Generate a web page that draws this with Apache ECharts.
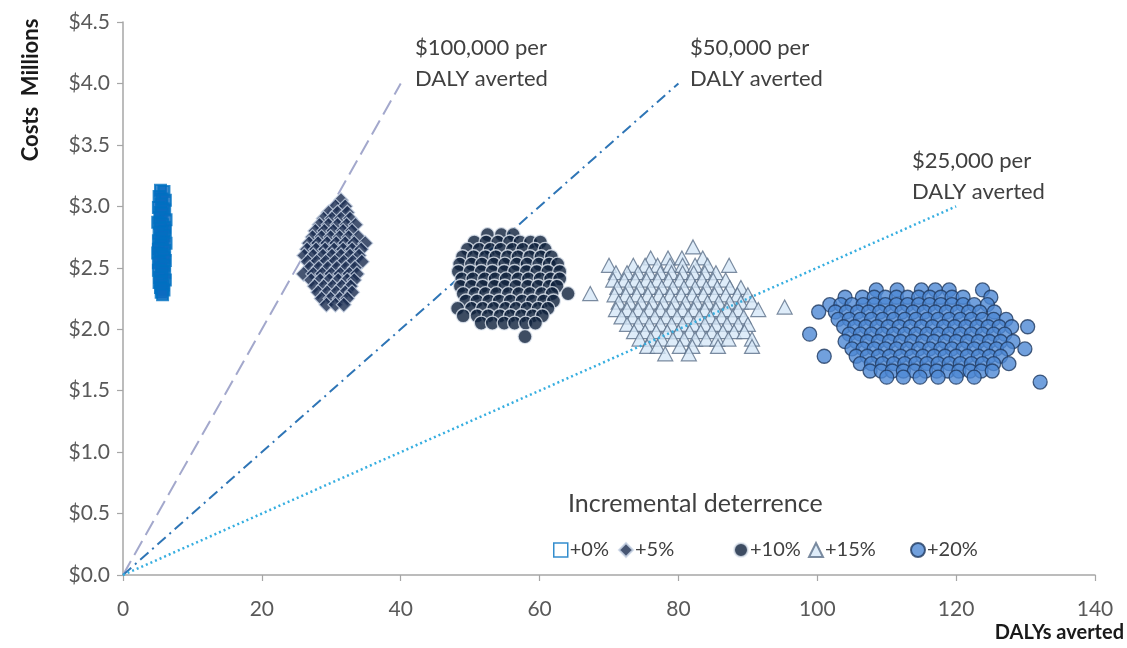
<!DOCTYPE html>
<html>
<head>
<meta charset="utf-8">
<title>Costs vs DALYs averted</title>
<script src="https://cdn.jsdelivr.net/npm/echarts@6/dist/echarts.min.js"></script>
<style>
  html, body { margin: 0; padding: 0; background: #fff; }
  #main { width: 1127px; height: 648px; }
</style>
</head>
<body>
<div id="main"></div>
<script>
// --- data: x = DALYs averted, y = costs ($ millions) ---
var xTicks = [0, 20, 40, 60, 80, 100, 120, 140];
var yTicks = [0, 0.5, 1, 1.5, 2, 2.5, 3, 3.5, 4, 4.5];

// threshold lines (start / end points)
var line100k = [[0, 0], [40, 4.0]];
var line50k = [[0, 0], [80, 4.0]];
var line25k = [[0, 0], [120, 3.0]];

// +0% : open squares, narrow column
var pts0 = [
  [5.4,3.13],[5.9,3.12],[5.2,3.08],[5.6,3.06],[6.1,3.05],[5.5,3.02],[5.1,2.99],[5.8,2.98],
  [6.0,2.97],[5.4,2.95],[5.6,2.94],[5.3,2.91],[6.2,2.89],[5.0,2.87],[5.3,2.86],[5.7,2.85],
  [6.0,2.83],[5.4,2.82],[6.1,2.80],[5.6,2.79],[5.2,2.78],[5.9,2.76],[5.5,2.74],[5.1,2.72],
  [5.8,2.71],[6.2,2.70],[5.4,2.69],[5.6,2.68],[5.3,2.66],[5.1,2.65],[6.0,2.64],[5.0,2.62],
  [5.5,2.61],[5.8,2.60],[5.4,2.58],[5.9,2.58],[6.1,2.56],[5.3,2.55],[5.1,2.54],[5.9,2.52],
  [5.5,2.50],[5.1,2.48],[5.7,2.47],[6.0,2.46],[5.6,2.44],[5.3,2.42],[6.1,2.40],[5.5,2.39],
  [5.2,2.38],[5.8,2.36],[5.4,2.34],[5.6,2.33],[5.9,2.32],[5.5,2.30],[5.7,2.28]
];

// +5% : filled diamonds, rows of [y, xs]
var rows5 = [
  [3.05, [31.4]],
  [3.00, [30.6, 32.0]],
  [2.95, [29.6, 30.9, 32.3]],
  [2.90, [28.9, 30.1, 31.4, 32.7]],
  [2.85, [28.3, 29.6, 30.9, 32.2, 33.5]],
  [2.80, [27.7, 29.0, 30.3, 31.7, 33.0]],
  [2.75, [27.3, 28.6, 29.9, 31.2, 32.5, 33.9]],
  [2.70, [26.8, 28.1, 29.4, 30.7, 32.0, 33.3, 34.9]],
  [2.65, [26.5, 27.8, 29.1, 30.4, 31.7, 33.0, 34.3]],
  [2.60, [26.1, 27.4, 28.8, 30.1, 31.4, 32.7, 34.0]],
  [2.55, [26.6, 27.9, 29.2, 30.5, 31.8, 33.1, 34.4]],
  [2.50, [26.9, 28.2, 29.5, 30.8, 32.1, 33.4]],
  [2.45, [26.0, 27.4, 28.7, 30.0, 31.3, 32.6, 33.7]],
  [2.40, [27.1, 28.4, 29.7, 31.0, 32.3, 33.3]],
  [2.35, [27.6, 28.9, 30.2, 31.5, 32.8]],
  [2.30, [28.1, 29.4, 30.7, 32.0, 33.0]],
  [2.25, [28.6, 29.9, 31.2, 32.3]],
  [2.20, [29.3, 30.6, 31.8]]
];

// +10% : dark navy circles
var rows10 = [
  [2.77, [52.5, 54.5, 56.2]],
  [2.71, [50.6, 52.3, 54.0, 55.7, 57.2, 58.7, 60.1]],
  [2.65, [49.6, 51.3, 52.9, 54.4, 56.1, 57.6, 59.3, 60.8]],
  [2.59, [48.9, 50.5, 52.2, 53.7, 55.4, 56.9, 58.6, 60.2, 61.7]],
  [2.53, [48.5, 50.2, 51.7, 53.4, 55.0, 56.7, 58.2, 59.9, 61.4, 62.6]],
  [2.47, [48.3, 50.0, 51.6, 53.2, 54.9, 56.4, 58.1, 59.6, 61.2, 62.9]],
  [2.41, [48.8, 50.4, 52.1, 53.6, 55.2, 56.9, 58.4, 60.1, 61.6, 62.9]],
  [2.35, [48.6, 50.2, 51.8, 53.5, 55.0, 56.6, 58.3, 59.8, 61.4, 62.5]],
  [2.29, [49.0, 50.7, 52.2, 53.8, 55.5, 57.0, 58.6, 60.3, 61.8, 64.1]],
  [2.23, [49.4, 51.0, 52.7, 54.2, 55.8, 57.5, 59.0, 60.6, 62.0]],
  [2.17, [48.2, 50.2, 51.8, 53.4, 55.1, 56.6, 58.2, 59.8, 61.2]],
  [2.11, [49.0, 51.0, 52.6, 54.3, 55.8, 57.4, 59.0, 60.4]],
  [2.05, [51.6, 53.2, 54.9, 56.4, 58.0, 59.4]],
  [1.94, [57.9]]
];

// +15% : light blue open triangles
var rows15 = [
  [2.67, [82.1]],
  [2.58, [76.0, 78.5, 80.5, 83.5]],
  [2.52, [70.0, 73.5, 75.2, 77.0, 78.8, 80.6, 82.4, 84.2, 87.3]],
  [2.46, [71.0, 72.6, 74.2, 75.8, 77.4, 79.0, 80.6, 82.2, 83.8, 85.4]],
  [2.40, [70.6, 72.2, 73.8, 75.4, 77.0, 78.6, 80.2, 81.8, 83.4, 85.0, 86.8]],
  [2.34, [71.2, 72.8, 74.4, 76.0, 77.6, 79.2, 80.8, 82.4, 84.0, 85.6, 87.4, 89.0]],
  [2.29, [67.3]],
  [2.28, [70.8, 72.4, 74.0, 75.6, 77.2, 78.8, 80.4, 82.0, 83.6, 85.2, 86.8, 88.5, 90.0]],
  [2.22, [71.4, 73.0, 74.6, 76.2, 77.8, 79.4, 81.0, 82.6, 84.2, 85.8, 87.4, 89.0, 90.6]],
  [2.18, [95.3]],
  [2.16, [71.0, 72.6, 74.2, 75.8, 77.4, 79.0, 80.6, 82.2, 83.8, 85.4, 87.0, 88.6, 91.5]],
  [2.10, [71.8, 73.4, 75.0, 76.6, 78.2, 79.8, 81.4, 83.0, 84.6, 86.2, 87.8, 89.4]],
  [2.04, [72.6, 74.2, 75.8, 77.4, 79.0, 80.6, 82.2, 83.8, 85.4, 87.0, 88.6, 90.0]],
  [1.98, [73.6, 75.2, 76.8, 78.4, 80.0, 81.6, 83.2, 84.8, 86.4, 88.0, 89.5]],
  [1.92, [74.4, 76.0, 77.6, 79.2, 80.8, 82.4, 84.0, 85.6, 87.2, 90.6]],
  [1.86, [75.5, 77.0, 80.2, 82.0, 85.7, 90.6]],
  [1.80, [78.1, 81.5]]
];

// +20% : medium blue circles
var rows20 = [
  [2.32, [108.5, 111.5, 115.0, 117.0, 119.0, 123.8]],
  [2.26, [104.0, 106.5, 108.2, 109.8, 111.4, 113.0, 114.6, 116.2, 117.8, 119.4, 121.0, 125.0]],
  [2.20, [101.8, 103.4, 105.0, 106.6, 108.2, 109.8, 111.4, 113.0, 114.6, 116.2, 117.8, 119.4, 121.0, 122.6, 124.5]],
  [2.14, [100.2, 102.6, 104.2, 105.8, 107.4, 109.0, 110.6, 112.2, 113.8, 115.4, 117.0, 118.6, 120.2, 121.8, 123.4, 125.5]],
  [2.08, [103.0, 104.6, 106.2, 107.8, 109.4, 111.0, 112.6, 114.2, 115.8, 117.4, 119.0, 120.6, 122.2, 123.8, 125.4, 127.2]],
  [2.02, [103.8, 105.4, 107.0, 108.6, 110.2, 111.8, 113.4, 115.0, 116.6, 118.2, 119.8, 121.4, 123.0, 124.6, 126.2, 128.0, 130.3]],
  [1.96, [98.9, 104.6, 106.2, 107.8, 109.4, 111.0, 112.6, 114.2, 115.8, 117.4, 119.0, 120.6, 122.2, 123.8, 125.4, 127.0]],
  [1.90, [104.0, 105.6, 107.2, 108.8, 110.4, 112.0, 113.6, 115.2, 116.8, 118.4, 120.0, 121.6, 123.2, 124.8, 126.4, 128.2]],
  [1.84, [105.0, 106.6, 108.2, 109.8, 111.4, 113.0, 114.6, 116.2, 117.8, 119.4, 121.0, 122.6, 124.2, 125.8, 127.4, 129.9]],
  [1.78, [101.0, 105.6, 107.2, 108.8, 110.4, 112.0, 113.6, 115.2, 116.8, 118.4, 120.0, 121.6, 123.2, 124.8, 126.4]],
  [1.72, [106.2, 107.8, 109.4, 111.0, 112.6, 114.2, 115.8, 117.4, 119.0, 120.6, 122.2, 123.8, 125.4, 127.6]],
  [1.66, [107.6, 109.2, 110.8, 112.4, 114.0, 115.6, 117.2, 118.8, 120.4, 122.0, 123.6, 125.2]],
  [1.61, [110.0, 112.4, 114.8, 117.4, 120.0, 122.6]],
  [1.57, [132.1]]
];

var seriesNames = ['+0%', '+5%', '+10%', '+15%', '+20%'];

// rows of [y, [x...]] -> [[x, y], ...]
function flat(rows) {
  var out = [];
  rows.forEach(function(r) {
    r[1].forEach(function(x) { out.push([x, r[0]]); });
  });
  return out;
}

var FONT = 'Lato, "Liberation Sans", sans-serif';
var chart = echarts.init(document.getElementById('main'), null, { renderer: 'canvas' });

function refLine(name, data, color, type, width, z) {
  return {
    name: name, type: 'line', data: data, symbol: 'none', silent: true, z: z,
    lineStyle: { color: color, width: width, type: type }
  };
}

function legendAt(name, left, extra) {
  var lg = {
    data: [name], left: left, top: 540, padding: 0, itemWidth: 14, itemHeight: 14, itemGap: 0,
    selectedMode: false,
    textStyle: { color: '#404040', fontSize: 20, fontFamily: FONT, padding: [0, 0, 0, -3] }
  };
  if (extra) lg.itemStyle = extra;
  return lg;
}

var option = {
  backgroundColor: '#ffffff',
  animation: false,
  grid: { left: 123, right: 32, top: 22, bottom: 73 },
  xAxis: {
    type: 'value', min: xTicks[0], max: xTicks[xTicks.length - 1], interval: 20,
    axisLine: { show: true, onZero: false, lineStyle: { color: '#a6a6a6', width: 1.5 } },
    axisTick: { show: true, length: 6, lineStyle: { color: '#a6a6a6', width: 1.2 } },
    splitLine: { show: false },
    axisLabel: { color: '#595959', fontSize: 21, fontFamily: FONT, margin: 24 }
  },
  yAxis: {
    type: 'value', min: yTicks[0], max: yTicks[yTicks.length - 1], interval: 0.5,
    axisLine: { show: true, lineStyle: { color: '#a6a6a6', width: 1.5 } },
    axisTick: { show: true, length: 6, lineStyle: { color: '#a6a6a6', width: 1.2 } },
    splitLine: { show: false },
    axisLabel: {
      color: '#595959', fontSize: 21, fontFamily: FONT, margin: 13,
      formatter: function(v) { return '$' + v.toFixed(1); }
    }
  },
  legend: [
    legendAt(seriesNames[0], 553, { color: '#ffffff', borderColor: '#0070c0', borderWidth: 1.5 }),
    legendAt(seriesNames[1], 618),
    legendAt(seriesNames[2], 733),
    legendAt(seriesNames[3], 808),
    legendAt(seriesNames[4], 910)
  ],
  series: [
    refLine('$100,000 per DALY averted', line100k, '#a3a8cc', [16, 7], 2, 1),
    refLine('$50,000 per DALY averted', line50k, '#2e75b6', [11, 5, 2, 5], 2, 1),
    {
      name: seriesNames[0], type: 'scatter', data: pts0, symbol: 'rect', symbolSize: 11, z: 3,
      itemStyle: { color: '#0d6cc0', borderColor: '#0070c0', borderWidth: 2 }
    },
    {
      name: seriesNames[1], type: 'scatter', data: flat(rows5), symbol: 'diamond', symbolSize: 15, z: 3,
      itemStyle: { color: '#182b4f', borderColor: '#c9d5e6', borderWidth: 1.2 }
    },
    {
      name: seriesNames[2], type: 'scatter', data: flat(rows10), symbol: 'circle', symbolSize: 14, z: 3,
      itemStyle: { color: '#0d1f3b', borderColor: '#e4eaf3', borderWidth: 1.4 }
    },
    {
      name: seriesNames[3], type: 'scatter', data: flat(rows15), symbol: 'triangle', symbolSize: [15, 14], z: 3,
      itemStyle: { color: '#d6e7f7', borderColor: '#5b6f88', borderWidth: 1.2 }
    },
    {
      name: seriesNames[4], type: 'scatter', data: flat(rows20), symbol: 'circle', symbolSize: 14, z: 3,
      itemStyle: { color: '#4d88d4', borderColor: '#1f3a60', borderWidth: 1.3 }
    },
    refLine('$25,000 per DALY averted', line25k, '#36aee0', [2, 3], 2.5, 4)
  ],
  graphic: [
    { type: 'text', left: 415, top: 32, style: { text: '$100,000 per\nDALY averted', fill: '#404040', font: '22px ' + FONT, lineHeight: 31 } },
    { type: 'text', left: 690, top: 32, style: { text: '$50,000 per\nDALY averted', fill: '#404040', font: '22px ' + FONT, lineHeight: 31 } },
    { type: 'text', left: 912, top: 145, style: { text: '$25,000 per\nDALY averted', fill: '#404040', font: '22px ' + FONT, lineHeight: 31 } },
    { type: 'text', left: 568, top: 491, style: { text: 'Incremental deterrence', fill: '#404040', font: '25px ' + FONT } },
    { type: 'text', right: 3, top: 623, style: { text: 'DALYs averted', fill: '#1a1a1a', font: 'bold 20px ' + FONT } },
    {
      type: 'text', x: 31, y: 90, rotation: Math.PI / 2,
      style: { text: 'Costs  Millions', fill: '#1a1a1a', font: 'bold 22px ' + FONT, textAlign: 'center', textVerticalAlign: 'middle' }
    }
  ]
};

chart.setOption(option);
</script>
</body>
</html>
